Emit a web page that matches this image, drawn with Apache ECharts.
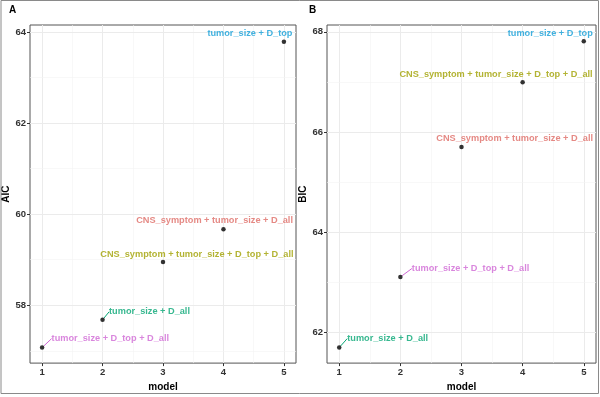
<!DOCTYPE html>
<html lang="en">
<head>
    <meta charset="UTF-8">
    <title>AIC / BIC by model</title>
    <script src="https://cdn.jsdelivr.net/npm/echarts@6/dist/echarts.min.js"></script>
    <style>
        html, body { margin: 0; padding: 0; background: #fff; }
    </style>
</head>
<body>
    <div id="main" style="width: 600px;height: 397px;"></div>

    <script type="text/javascript">
        // model numbers and the formula each one uses
        var models = [1, 2, 3, 4, 5];
        var aicFormulas = [
            'tumor_size + D_top + D_all',
            'tumor_size + D_all',
            'CNS_symptom + tumor_size + D_top + D_all',
            'CNS_symptom + tumor_size + D_all',
            'tumor_size + D_top'
        ];
        var bicFormulas = [
            'tumor_size + D_all',
            'tumor_size + D_top + D_all',
            'CNS_symptom + tumor_size + D_all',
            'CNS_symptom + tumor_size + D_top + D_all',
            'tumor_size + D_top'
        ];
        var aicValues = [57.07, 57.68, 58.95, 59.67, 63.79];
        var bicValues = [61.69, 63.10, 65.70, 66.99, 67.81];

        var xTicks = [1, 2, 3, 4, 5];
        var xMinor = [1.5, 2.5, 3.5, 4.5];
        var aicTicks = [58, 60, 62, 64];
        var aicMinor = [57, 59, 61, 63];
        var bicTicks = [62, 64, 66, 68];
        var bicMinor = [63, 65, 67];

        // ggplot hue colours, one per formula
        var formulaColors = {
            'CNS_symptom + tumor_size + D_all': '#df6b65',
            'CNS_symptom + tumor_size + D_top + D_all': '#a0a000',
            'tumor_size + D_all': '#06a674',
            'tumor_size + D_top': '#139fd8',
            'tumor_size + D_top + D_all': '#cf68d4'
        };

        // label placement: [dx, dy, align, line]
        var aicLabelPos = [[9.5, -9, 'left', true], [6.5, -8, 'left', true], [130.5, -8, 'right', false], [69.5, -8.5, 'right', false], [8.5, -8, 'right', false]];
        var bicLabelPos = [[8, -9, 'left', true], [11.5, -8.5, 'left', true], [131.5, -8.5, 'right', false], [70, -8, 'right', false], [9, -8, 'right', false]];

        var fontFam = 'Liberation Sans, Arial, sans-serif';

        myChart = echarts.init(document.getElementById('main'));

        function buildData(values, formulas, pos) {
            var out = [];
            for (var i = 0; i < values.length; i++) {
                var c = formulaColors[formulas[i]];
                out.push({
                    value: [models[i], values[i]],
                    label: {
                        show: true,
                        formatter: formulas[i],
                        position: 'inside',
                        align: pos[i][2],
                        verticalAlign: 'middle',
                        offset: [pos[i][0], pos[i][1]],
                        color: c
                    },
                    labelLine: {
                        show: pos[i][3],
                        lineStyle: { color: c, width: 1 }
                    }
                });
            }
            return out;
        }

        function gridLines(list, key, width, color) {
            var out = [];
            for (var i = 0; i < list.length; i++) {
                var d = {};
                d[key] = list[i];
                d.lineStyle = { color: color, width: width, type: 'solid' };
                out.push(d);
            }
            return out;
        }

        function xAxisOpt(idx) {
            return {
                type: 'value', gridIndex: idx, min: 0.8, max: 5.2,
                name: 'model', nameLocation: 'middle', nameGap: 15,
                nameTextStyle: { color: '#000', fontWeight: 'bold', fontSize: 10, fontFamily: fontFam },
                axisLine: { show: false },
                axisTick: { show: true, customValues: xTicks, length: 3, lineStyle: { color: '#333' } },
                axisLabel: { customValues: xTicks, color: '#333', fontWeight: 'bold', fontSize: 9.5, margin: 4, fontFamily: fontFam },
                splitLine: { show: false }
            };
        }

        function yAxisOpt(idx, name, min, max, ticks) {
            return {
                type: 'value', gridIndex: idx, min: min, max: max,
                name: name, nameLocation: 'middle', nameGap: 19, nameRotate: 90,
                nameTextStyle: { color: '#000', fontWeight: 'bold', fontSize: 10, fontFamily: fontFam },
                axisLine: { show: false },
                axisTick: { show: true, customValues: ticks, length: 3, lineStyle: { color: '#333' } },
                axisLabel: { customValues: ticks, color: '#333', fontWeight: 'bold', fontSize: 9.5, margin: 4, fontFamily: fontFam },
                splitLine: { show: false }
            };
        }

        function pointSeries(idx, values, formulas, pos, majorY, minorY) {
            return {
                type: 'scatter', xAxisIndex: idx, yAxisIndex: idx,
                symbolSize: 4.5,
                itemStyle: { color: '#000' },
                label: { fontSize: 9.2, fontWeight: 'bold', fontFamily: fontFam },
                data: buildData(values, formulas, pos),
                markLine: {
                    silent: true, symbol: 'none', z: 0,
                    label: { show: false },
                    animation: false,
                    data: gridLines(xTicks, 'xAxis', 1, '#ebebeb')
                        .concat(gridLines(xMinor, 'xAxis', 0.6, '#f3f3f3'))
                        .concat(gridLines(majorY, 'yAxis', 1, '#ebebeb'))
                        .concat(gridLines(minorY, 'yAxis', 0.6, '#f3f3f3'))
                }
            };
        }

        var option = {
            animation: false,
            backgroundColor: '#fff',
            title: [
                { text: 'A', left: 4, top: 0, textStyle: { fontSize: 10, fontWeight: 'bold', color: '#000', fontFamily: fontFam } },
                { text: 'B', left: 304, top: 0, textStyle: { fontSize: 10, fontWeight: 'bold', color: '#000', fontFamily: fontFam } }
            ],
            graphic: [{
                type: 'rect', silent: true, z: 100,
                shape: { x: 1, y: 0.5, width: 597.5, height: 393 },
                style: { fill: 'none', stroke: '#8a8a8a', lineWidth: 1 }
            }],
            grid: [
                { left: 27, top: 25, width: 269, height: 348, show: true, borderColor: '#555', borderWidth: 1, backgroundColor: '#fff' },
                { left: 327, top: 25, width: 269, height: 348, show: true, borderColor: '#555', borderWidth: 1, backgroundColor: '#fff' }
            ],
            xAxis: [xAxisOpt(0), xAxisOpt(1)],
            yAxis: [
                yAxisOpt(0, 'AIC', 56.73, 64.156, aicTicks),
                yAxisOpt(1, 'BIC', 61.38, 68.136, bicTicks)
            ],
            series: [
                pointSeries(0, aicValues, aicFormulas, aicLabelPos, aicTicks, aicMinor),
                pointSeries(1, bicValues, bicFormulas, bicLabelPos, bicTicks, bicMinor)
            ]
        };
        myChart.setOption(option);
    </script>
</body>
</html>
